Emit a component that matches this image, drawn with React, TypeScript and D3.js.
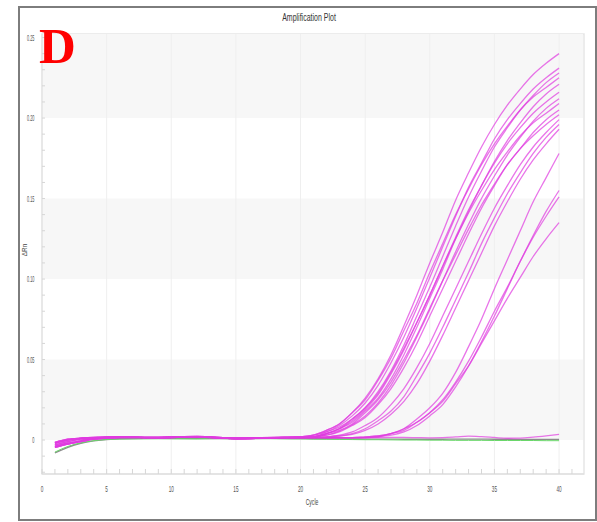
import * as d3 from "d3";

const cycles = [1, 2, 3, 4, 6, 9, 12, 15, 18, 20, 21, 22, 23, 24, 25, 26, 27, 28, 29, 30, 31, 32, 33, 34, 35, 36, 37, 38, 39, 40];

// early group
const a1 = [-0.003, -0.001, 0.0005, 0.0012, 0.0018, 0.0016, 0.0022, 0.0012, 0.0016, 0.002, 0.003, 0.006, 0.010, 0.017, 0.026, 0.038, 0.053, 0.071, 0.090, 0.110, 0.129, 0.149, 0.166, 0.182, 0.196, 0.208, 0.218, 0.227, 0.234, 0.240];
const a2 = [-0.0045, -0.0025, -0.001, 0.0005, 0.0015, 0.0015, 0.002, 0.001, 0.0015, 0.002, 0.003, 0.005, 0.009, 0.015, 0.023, 0.034, 0.048, 0.064, 0.082, 0.101, 0.120, 0.139, 0.157, 0.172, 0.187, 0.199, 0.209, 0.218, 0.225, 0.231];
const a3 = [-0.002, 0, 0.001, 0.0015, 0.0019, 0.0015, 0.0018, 0.0008, 0.0014, 0.002, 0.002, 0.004, 0.007, 0.013, 0.020, 0.030, 0.043, 0.059, 0.077, 0.095, 0.114, 0.133, 0.151, 0.167, 0.182, 0.194, 0.205, 0.214, 0.222, 0.228];
const a4 = [-0.004, -0.002, -0.0005, 0.0008, 0.0016, 0.0017, 0.0021, 0.0011, 0.0015, 0.002, 0.003, 0.006, 0.010, 0.017, 0.025, 0.037, 0.051, 0.068, 0.085, 0.104, 0.122, 0.140, 0.156, 0.171, 0.184, 0.195, 0.205, 0.213, 0.219, 0.225];
const a5 = [-0.0015, 0.0005, 0.0012, 0.0016, 0.0018, 0.0014, 0.0019, 0.0009, 0.0013, 0.002, 0.002, 0.004, 0.007, 0.011, 0.018, 0.026, 0.038, 0.053, 0.070, 0.088, 0.106, 0.125, 0.142, 0.158, 0.173, 0.186, 0.197, 0.207, 0.215, 0.221];
const a6 = [-0.0045, -0.0025, -0.001, 0.0005, 0.0015, 0.0015, 0.002, 0.001, 0.0015, 0.002, 0.002, 0.004, 0.007, 0.012, 0.019, 0.028, 0.041, 0.056, 0.073, 0.090, 0.108, 0.126, 0.143, 0.158, 0.172, 0.184, 0.194, 0.203, 0.210, 0.216];
const a7 = [-0.003, -0.001, 0.0005, 0.0012, 0.0018, 0.0016, 0.0022, 0.0012, 0.0016, 0.0015, 0.002, 0.003, 0.0055, 0.0095, 0.015, 0.023, 0.034, 0.048, 0.064, 0.081, 0.099, 0.117, 0.134, 0.150, 0.164, 0.177, 0.188, 0.198, 0.206, 0.212];
const a8 = [-0.002, 0, 0.001, 0.0015, 0.0019, 0.0015, 0.0018, 0.0008, 0.0014, 0.002, 0.002, 0.005, 0.008, 0.013, 0.020, 0.029, 0.042, 0.057, 0.073, 0.090, 0.108, 0.125, 0.141, 0.155, 0.168, 0.179, 0.189, 0.197, 0.203, 0.209];
const a9 = [-0.004, -0.002, -0.0005, 0.0008, 0.0016, 0.0017, 0.0021, 0.0011, 0.0015, 0.0015, 0.002, 0.003, 0.005, 0.009, 0.014, 0.022, 0.032, 0.045, 0.060, 0.077, 0.094, 0.111, 0.128, 0.144, 0.158, 0.171, 0.181, 0.191, 0.199, 0.205];
const a10 = [-0.0015, 0.0005, 0.0012, 0.0016, 0.0018, 0.0014, 0.0019, 0.0009, 0.0013, 0.0015, 0.002, 0.004, 0.006, 0.010, 0.017, 0.025, 0.036, 0.050, 0.065, 0.082, 0.099, 0.115, 0.131, 0.146, 0.159, 0.171, 0.181, 0.189, 0.196, 0.202];
// middle group
const b1 = [-0.0045, -0.0025, -0.001, 0.0005, 0.0015, 0.0015, 0.002, 0.001, 0.0015, 0.0015, 0.0015, 0.002, 0.003, 0.005, 0.009, 0.014, 0.022, 0.032, 0.045, 0.060, 0.077, 0.094, 0.111, 0.128, 0.144, 0.158, 0.171, 0.182, 0.191, 0.199];
const b2 = [-0.002, 0, 0.001, 0.0015, 0.0019, 0.0015, 0.0018, 0.0008, 0.0014, 0.0015, 0.0015, 0.002, 0.0025, 0.004, 0.007, 0.012, 0.018, 0.027, 0.040, 0.054, 0.070, 0.087, 0.104, 0.122, 0.138, 0.153, 0.166, 0.178, 0.188, 0.196];
const b3 = [-0.004, -0.002, -0.0005, 0.0008, 0.0016, 0.0017, 0.0021, 0.0011, 0.0015, 0.0015, 0.0015, 0.002, 0.0025, 0.0035, 0.006, 0.010, 0.016, 0.024, 0.035, 0.049, 0.065, 0.082, 0.099, 0.116, 0.133, 0.148, 0.162, 0.174, 0.184, 0.193];
// late group
const c1 = [-0.003, -0.001, 0.0005, 0.0012, 0.0018, 0.0016, 0.0022, 0.0012, 0.0016, 0.0015, 0.0015, 0.0015, 0.0015, 0.0015, 0.002, 0.0025, 0.004, 0.007, 0.013, 0.020, 0.029, 0.042, 0.058, 0.075, 0.094, 0.112, 0.130, 0.148, 0.163, 0.178];
const c2 = [-0.0015, 0.0005, 0.0012, 0.0016, 0.0018, 0.0014, 0.0019, 0.0009, 0.0013, 0.0015, 0.0015, 0.0015, 0.0015, 0.0015, 0.0015, 0.002, 0.003, 0.005, 0.009, 0.015, 0.022, 0.033, 0.046, 0.061, 0.077, 0.094, 0.111, 0.127, 0.142, 0.155];
const c3 = [-0.0045, -0.0025, -0.001, 0.0005, 0.0015, 0.0015, 0.002, 0.001, 0.0015, 0.0015, 0.0015, 0.0015, 0.0015, 0.0015, 0.0015, 0.002, 0.004, 0.006, 0.011, 0.017, 0.025, 0.036, 0.049, 0.064, 0.080, 0.095, 0.111, 0.126, 0.139, 0.151];
const c4 = [-0.002, 0, 0.001, 0.0015, 0.0019, 0.0015, 0.0018, 0.0008, 0.0014, 0.0015, 0.0015, 0.0015, 0.0015, 0.0015, 0.002, 0.0025, 0.004, 0.007, 0.011, 0.017, 0.024, 0.035, 0.046, 0.060, 0.074, 0.088, 0.101, 0.114, 0.125, 0.135];
// no amplification
const flat = [-0.004, -0.002, -0.0005, 0.0008, 0.0016, 0.0017, 0.0021, 0.0011, 0.0015, 0.0015, 0.0015, 0.0014, 0.0013, 0.0013, 0.0014, 0.0015, 0.0016, 0.0016, 0.0015, 0.0014, 0.0015, 0.0019, 0.0024, 0.0021, 0.0016, 0.0011, 0.0012, 0.0018, 0.0026, 0.0035];
const grey = [-0.008, -0.0045, -0.002, -0.0005, 0.0008, 0.001, 0.001, 0.0008, 0.001, 0.0009, 0.0008, 0.0008, 0.0007, 0.0007, 0.0006, 0.0006, 0.0006, 0.0005, 0.0005, 0.0005, 0.0005, 0.0006, 0.0006, 0.0006, 0.0005, 0.0005, 0.0004, 0.0004, 0.0004, 0.0004];
const green = [-0.0075, -0.004, -0.0018, -0.0004, 0.0006, 0.0008, 0.0006, 0.0012, 0.0008, 0.0007, 0.0006, 0.0005, 0.0004, 0.0003, 0.0002, 0.0002, 0.0001, 0, 0, -0.0001, -0.0001, -0.0002, -0.0002, -0.0002, -0.0003, -0.0003, -0.0003, -0.0003, -0.0004, -0.0004];

const magentaCurves = [flat, c4, c3, c2, c1, b3, b2, b1, a10, a9, a8, a7, a6, a5, a4, a3, a2, a1];

const xTicks = [0, 5, 10, 15, 20, 25, 30, 35, 40];
const yTicks = [0, 0.05, 0.1, 0.15, 0.2, 0.25];
const yTickLabels = ["0", "0.05", "0.10", "0.15", "0.20", "0.25"];

function Squish({ x, y, sx, size, anchor, fill, children, rotate = 0 }: any) {
  return (
    <text
      transform={`translate(${x},${y}) rotate(${rotate}) scale(${sx},1)`}
      textAnchor={anchor}
      fontSize={size}
      fill={fill}
      fontFamily="'Liberation Sans', Arial, sans-serif"
    >
      {children}
    </text>
  );
}

export default function App() {
  const W = 597;
  const H = 522;
  const x = d3.scaleLinear().domain([0, 41.93]).range([42, 584]);
  const y = d3.scaleLinear().domain([-0.0211, 0.2522]).range([474, 34]);
  const [y0, y1] = y.domain();

  const line = d3
    .line<number>()
    .x((_, i) => x(cycles[i]))
    .y((d) => y(d))
    .curve(d3.curveMonotoneX);

  const bands = [
    [0.2, y1],
    [0.1, 0.15],
    [0, 0.05],
  ];
  const minorX = d3.range(0, 42, 1);
  const minorY = d3.range(-0.02, 0.2505, 0.01);

  return (
    <svg width={W} height={H} style={{ position: "absolute", left: 0, top: 0, background: "#fff" }}>
      <rect x={0} y={0} width={W} height={H} fill="#fff" />
      <rect x={19} y={7} width={577} height={513} fill="none" stroke="#7d7d7d" strokeWidth={2} />

      {/* plot background and bands */}
      <rect x={x(0)} y={y(y1)} width={x(41.93) - x(0)} height={y(y0) - y(y1)} fill="#fff" stroke="#e6e6e6" strokeWidth={1.5} />
      {bands.map(([lo, hi], i) => (
        <rect key={i} x={x(0) + 1} y={y(hi)} width={x(41.93) - x(0) - 2} height={y(lo) - y(hi)} fill="#f7f7f7" />
      ))}
      {xTicks.slice(1).map((t) => (
        <line key={t} x1={x(t)} x2={x(t)} y1={y(y1)} y2={y(y0)} stroke="#efefef" strokeWidth={1} />
      ))}
      <line x1={x(0)} x2={x(41.93)} y1={y(y0)} y2={y(y0)} stroke="#dcdcdc" />
      <line x1={x(0)} x2={x(0)} y1={y(y1)} y2={y(y0)} stroke="#e4e4e4" />
      {minorX.map((t) => (
        <line key={t} x1={x(t)} x2={x(t)} y1={y(y0)} y2={y(y0) - 5} stroke="#d6d6d6" />
      ))}
      {minorY.map((t, i) => (
        <line key={i} x1={x(0)} x2={x(0) + 3} y1={y(t)} y2={y(t)} stroke="#d6d6d6" />
      ))}

      {/* curves */}
      <path d={line(grey) || ""} fill="none" stroke="#8c8c8c" strokeWidth={1.3} />
      <path d={line(green) || ""} fill="none" stroke="#6ad66a" strokeWidth={1} />
      {magentaCurves.map((c, i) => (
        <path key={i} d={line(c) || ""} fill="none" stroke="#e03be0" strokeWidth={1.3} strokeOpacity={0.7} />
      ))}

      {/* tick labels */}
      {yTicks.map((t, i) => (
        <Squish key={t} x={34.5} y={y(t) + 3} sx={0.45} size={8.5} anchor="end" fill="#555">
          {yTickLabels[i]}
        </Squish>
      ))}
      {xTicks.map((t) => (
        <Squish key={t} x={x(t)} y={492} sx={0.55} size={8.5} anchor="middle" fill="#555">
          {t}
        </Squish>
      ))}
      <Squish x={312} y={505} sx={0.6} size={8.5} anchor="middle" fill="#444">Cycle</Squish>
      <Squish x={27} y={250} sx={0.8} size={8} anchor="middle" fill="#444" rotate={-90}>ΔRn</Squish>
      <Squish x={309} y={21} sx={0.7} size={10} anchor="middle" fill="#333">Amplification Plot</Squish>

      <text x={39} y={63} fontFamily="'Liberation Serif', 'Times New Roman', serif" fontWeight="bold" fontSize={51} fill="#ff0000">
        D
      </text>
    </svg>
  );
}
